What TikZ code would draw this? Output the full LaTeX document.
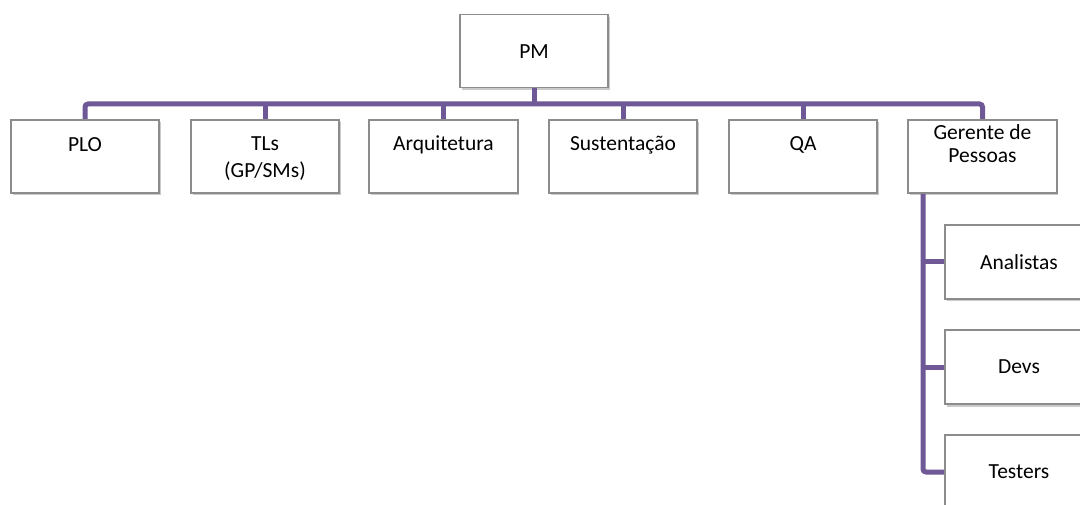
\documentclass[tikz,border=0pt]{standalone}
\usepackage{fontspec}
\setmainfont{Carlito}
\usetikzlibrary{shadows}
\definecolor{conncol}{RGB}{110,88,150}
\definecolor{boxline}{RGB}{140,140,140}
\tikzset{
  orgbox/.style={draw=boxline, line width=1.1pt, fill=white, minimum width=148pt, minimum height=73pt, inner sep=0pt,
     drop shadow={shadow xshift=1.5pt, shadow yshift=-2.5pt, opacity=0.35, fill=black!60}},
  lbl/.style={font=\fontsize{21.5}{27}\selectfont, align=center, inner sep=0pt, text=black},
  conn/.style={draw=conncol, line width=5pt, rounded corners=3pt}
}
\begin{document}
\begin{tikzpicture}[x=1pt,y=-1pt]
\useasboundingbox (0,0) rectangle (1080,505);
\clip (0,0) rectangle (1080,505);
% boxes
\node[orgbox] (pm) at (534,51) {};
\node[orgbox] (plo) at (85,156.5) {};
\node[orgbox] (tls) at (265,156.5) {};
\node[orgbox] (arq) at (443.5,156.5) {};
\node[orgbox] (sus) at (623,156.5) {};
\node[orgbox] (qa) at (803,156.5) {};
\node[orgbox] (ger) at (982.5,156.5) {};
\node[orgbox, minimum height=74pt] (ana) at (1019,262) {};
\node[orgbox, minimum height=74pt] (dev) at (1019,367) {};
\node[orgbox, minimum height=74pt] (tes) at (1019,472) {};
% connectors
\coordinate (barL) at (85,104);
\coordinate (barR) at (982.5,104);
\draw[conn] (plo.north) -- (barL) -- (barR) -- (ger.north);
\draw[conn] (pm.south) -- (pm.south |- barL);
\draw[conn] (tls.north) -- (tls.north |- barL);
\draw[conn] (arq.north) -- (arq.north |- barL);
\draw[conn] (sus.north) -- (sus.north |- barL);
\draw[conn] (qa.north) -- (qa.north |- barL);
\coordinate (gdrop) at (923,193);
\draw[conn] (gdrop) |- (tes.west);
\draw[conn] (gdrop |- ana.west) -- (ana.west);
\draw[conn] (gdrop |- dev.west) -- (dev.west);
% redraw box borders over connector ends
\foreach \n in {plo,tls,arq,sus,qa,ger,ana,dev,tes} {\draw[boxline, line width=1.1pt] (\n.north west) rectangle (\n.south east);}
% labels
\node[lbl] (pmt) at (534,52) {PM};
\node[lbl] (plot) at (85,145) {PLO};
\node[lbl, anchor=north] (tlst) at (265,137) {TLs\\(GP/SMs)};
\node[lbl] (arqt) at (443.5,145) {Arquitetura};
\node[lbl] (sust) at (623,145) {Sustentação};
\node[lbl] (qat) at (803,145) {QA};
\node[lbl, anchor=north, font=\fontsize{21.5}{23.5}\selectfont] (gert) at (982.5,124) {Gerente de\\Pessoas};
\node[lbl] (anat) at (1019,262) {Analistas};
\node[lbl] (devt) at (1019,367) {Devs};
\node[lbl] (test) at (1019,472) {Testers};
\end{tikzpicture}
\end{document}
